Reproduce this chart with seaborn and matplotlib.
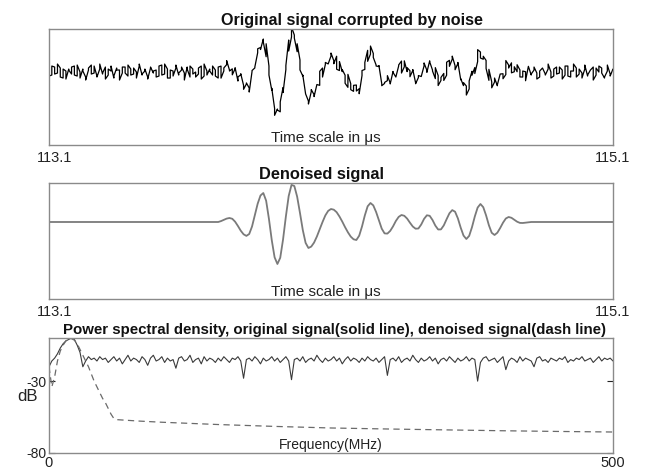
import numpy as np
import pandas as pd
import seaborn as sns
import matplotlib.pyplot as plt
from matplotlib.transforms import ScaledTranslation

sns.set_theme(style="white")
plt.rcParams['font.family'] = ['Liberation Sans', 'DejaVu Sans']

# time axis (us) and denoised signal
t_start, t_end = 113.1, 115.1
denoised = [0.0] * 61 + [
    0.9, 2.1, 3.4, 4.0, 3.2, 0.3, -4.0, -8.7, -12.3, -13.9,
    -12.0, -4.5, 7.1, 18.3, 26.5, 29.0, 21.3, 3.0, -18.2, -35.3,
    -42.0, -35.8, -17.5, 5.5, 26.0, 37.1, 36.0, 25.3, 9.1, -8.0,
    -20.9, -26.0, -24.6, -20.6, -14.5, -7.3, 0.0, 6.6, 11.1, 13.0,
    12.3, 9.8, 5.5, 0.4, -5.2, -10.3, -14.6, -17.3, -18.0, -13.7,
    -4.5, 6.6, 15.7, 19.0, 16.6, 10.0, 1.5, -6.7, -11.4, -11.6,
    -8.9, -4.4, 1.0, 5.1, 7.0, 6.2, 3.4, -0.7, -4.5, -6.7,
    -6.5, -2.5, 3.1, 6.7, 6.2, 2.0, -3.6, -7.5, -7.4, -3.4,
    2.8, 8.7, 11.9, 10.3, 3.6, -5.7, -13.6, -17.0, -13.9, -5.2,
    5.5, 14.4, 18.0, 14.8, 6.6, -3.3, -10.8, -13.0, -10.7, -6.0,
    -0.7, 3.5, 5.0, 4.2, 2.3, 0.3, -0.9, -1.0, -0.7, -0.3,
] + [0.0] * 30

# noise seen on the original trace (two readings per sample)
noise_a = [
    2, -3, 5, -1, 4, -6, 1, 3, -2, 6, -4, 0, 3, -5, 2, 7, -1, -4, 3, -2,
    5, -3, 1, -6, 4, 2, -1, 5, -4, 3, -2, 0, 6, -3, 1, -5, 4, -1, 2, -4,
    7, -2, 3, -6, 1, 4, -3, 2, -1, 5, -5, 3, 0, -2, 6, -4, 1, 3, -3, 2,
    -6, 5, -1, 4, -2, 0, 3, -5, 6, -1, 2, -4, 5, -3, 1, -2, 4, -6, 3, 0,
    -1, 5, -4, 2, -3, 6, -2, 1, -5, 3, 4, -1, -3, 5, -2, 2, -6, 4, 1, -3,
    3, -1, 6, -4, 0, 2, -5, 3, -2, 5, -3, 1, -4, 6, -1, 2, -3, 4, -5, 0,
    3, -2, 5, -6, 1, 4, -1, -3, 2, 6, -4, 1, -2, 3, -5, 5, 0, -3, 4, -1,
    2, -6, 3, 1, -4, 5, -2, 0, 3, -3, 6, -1, -4, 2, -2, 5, -5, 1, 3, -3,
    4, -1, -6, 2, 5, -2, 0, 3, -4, 1, 6, -3, 2, -1, -5, 4, -2, 3, 0, -4,
    5, -1, 2, -3, 6, -5, 1, 4, -2, -1, 3, -4, 2, 5, -3, 0, 4, -6, 1, -2,
    3,
]
noise_b = [
    -4, 6, -2, 8, -5, 3, -7, 2, 5, -3, 7, -6, 1, -8, 4, -2, 6, -5, 8, -1,
    -7, 3, 6, -4, 2, -8, 5, -1, 7, -3, 4, -6, 8, -2, 3, -7, 5, 1, -5, 6,
    -3, 8, -6, 2, -4, 7, -1, 5, -8, 3, 6, -2, -5, 4, -7, 8, -3, 1, 6, -4,
    5, -7, 2, 8, -3, -6, 4, -1, 7, -5, 3, -8, 6, -2, 5, -4, 1, 7, -6, 2,
    -8, 4, 6, -3, 1, -5, 8, -2, 3, -7, 5, -1, -6, 7, -4, 2, 8, -5, 3, -3,
    6, -4, -7, 5, 2, -6, 8, -3, 4, -1, -8, 6, 3, -5, 7, -2, -4, 5, -7, 1,
    8, -3, 4, -6, 2, -8, 5, 1, -4, 7, -5, 3, -2, 6, -7, 4, -1, 8, -6, 2,
    -5, 7, -3, 4, -8, 6, -1, 3, -6, 5, 2, -7, 8, -4, 1, -3, 6, -5, 7, -2,
    4, -6, 8, -1, -5, 3, 7, -4, 2, -8, 6, -2, 5, -7, 1, 4, -3, 8, -6, 3,
    -2, 5, -7, 6, -4, 1, 8, -5, 3, -6, 7, -3, 2, -8, 4, 6, -1, -5, 7, -4,
    2,
]

# power spectral density (dB) vs frequency (MHz)
psd_orig = [
    -20, -16, -14, -11, -7, -4, -2, -1, 0, -1, -5, -10, -20, -16, -13, -15, -14, -16, -13, -15,
    -14, -17, -15, -13, -16, -14, -18, -15, -12, -16, -14, -15, -17, -13, -15, -19, -14, -12, -16, -15,
    -13, -17, -14, -16, -15, -21, -14, -13, -16, -15, -12, -17, -15, -14, -18, -13, -16, -14, -15, -17,
    -14, -16, -13, -15, -17, -14, -15, -13, -16, -28, -15, -14, -16, -13, -15, -18, -14, -16, -15, -13,
    -16, -14, -17, -15, -13, -16, -29, -15, -14, -16, -13, -17, -15, -14, -16, -12, -15, -17, -14, -16,
    -15, -13, -16, -14, -18, -15, -13, -16, -14, -15, -17, -14, -16, -13, -15, -16, -14, -17, -15, -13,
    -26, -15, -14, -16, -13, -17, -15, -14, -16, -12, -15, -17, -14, -16, -15, -13, -16, -14, -18, -15,
    -14, -16, -13, -15, -17, -14, -16, -15, -13, -16, -14, -15, -30, -17, -14, -13, -16, -15, -14, -17,
    -15, -13, -22, -16, -14, -15, -17, -13, -16, -14, -15, -16, -20, -14, -13, -16, -15, -17, -14, -15,
    -16, -14, -15, -13, -17, -15, -16, -14, -15, -13, -16, -15, -14, -17, -15, -13, -16, -14, -15, -14,
    -16,
]
freq_den = [0, 2.5, 5, 7.5, 10, 12.5, 15, 17.5, 20, 22.5, 25, 27.5, 30, 32.5, 35, 37.5,
            40, 42.5, 45, 47.5, 50, 52.5, 55, 57.5, 60, 80, 100, 150, 200, 250, 300,
            350, 400, 450, 500]
psd_den = [-20, -34, -27, -16, -9, -5, -2, -0.5, -0.5, -1.5, -4, -8, -12, -16, -20, -25,
           -30, -34, -38, -42, -45, -49, -53, -56, -56.8, -57.8, -58.6, -60.2, -61.5, -62.6, -63.3,
           -63.9, -64.5, -65.0, -65.4]

t = np.linspace(t_start, t_end, len(denoised))
d = np.array(denoised)
# both noise readings of a sample share its time stamp
noisy = pd.DataFrame({
    "t": np.repeat(t, 2),
    "v": np.column_stack([d + np.array(noise_a), d + np.array(noise_b)]).ravel(),
})
freq_orig = np.linspace(0, 500, len(psd_orig))

fig = plt.figure(figsize=(6.49, 4.73), dpi=100)
ax1 = fig.add_axes([0.0755, 0.6934, 0.869, 0.2452])
ax2 = fig.add_axes([0.0755, 0.3679, 0.869, 0.2452])
ax3 = fig.add_axes([0.0755, 0.0423, 0.869, 0.2431])

sns.lineplot(data=noisy, x="t", y="v", estimator=None, sort=False,
             color="black", lw=0.9, ax=ax1)
sns.lineplot(x=t, y=d, estimator=None, color="#7a7a7a", lw=1.3, ax=ax2)
sns.lineplot(x=freq_orig, y=psd_orig, estimator=None, color="#3a3a3a", lw=0.8, ax=ax3)
sns.lineplot(x=freq_den, y=psd_den, estimator=None, color="#6a6a6a", lw=0.9,
             dashes=False, ax=ax3).lines[-1].set_dashes((5, 3.5))

ax1.set_ylim(-73, 43)
ax2.set_ylim(-77, 39)
ax3.set_ylim(-80, 0)
ax3.set_xlim(0, 500)

titles = [("Original signal corrupted by noise", 11.6, 0.537),
          ("Denoised signal", 11.8, 0.484),
          ("Power spectral density, original signal(solid line), denoised signal(dash line)", 10.8, 0.507)]
for ax, (title, size, xpos) in zip([ax1, ax2, ax3], titles):
    for s in ax.spines.values():
        s.set_color("#8a8a8a")
        s.set_linewidth(1.0)
    ax.set_title(title, fontsize=size, fontweight="bold", pad=3, x=xpos, color="#111111")
    ax.set_xlabel("")
    ax.set_ylabel("")

for ax in [ax1, ax2]:
    ax.set_xlim(t_start, t_end)
    ax.set_xticks([t_start, t_end])
    ax.set_xticklabels(["113.1", "115.1"])
    ax.set_yticks([])
    ax.tick_params(axis="x", length=0, pad=4, labelsize=10.5, colors="#222222")
    ax.get_xticklabels()[0].set_transform(
        ax.get_xticklabels()[0].get_transform() + ScaledTranslation(6 / 100, 0, fig.dpi_scale_trans))
    ax.text(0.49, 0.06, "Time scale in \u03bcs", transform=ax.transAxes,
            ha="center", va="center", fontsize=11, color="#222222")

ax3.set_xticks([0, 500])
ax3.set_xticklabels(["0", "500"])
ax3.set_yticks([-80, -30])
ax3.set_yticklabels(["-80", "-30"])
ax3.tick_params(axis="x", length=0, pad=2, labelsize=10.5, colors="#222222")
ax3.tick_params(axis="y", direction="in", length=4, width=0.8, pad=2, left=True, right=True,
                labelsize=10, colors="#222222")
ax3.set_ylabel("dB", rotation=0, fontsize=12, color="#222222")
ax3.yaxis.set_label_coords(-0.039, 0.49)
ax3.yaxis.label.set_va("center")
ax3.text(0.5, 0.07, "Frequency(MHz)", transform=ax3.transAxes,
         ha="center", va="center", fontsize=10, color="#222222")

fig.savefig("out.png", dpi=100, facecolor="white")
